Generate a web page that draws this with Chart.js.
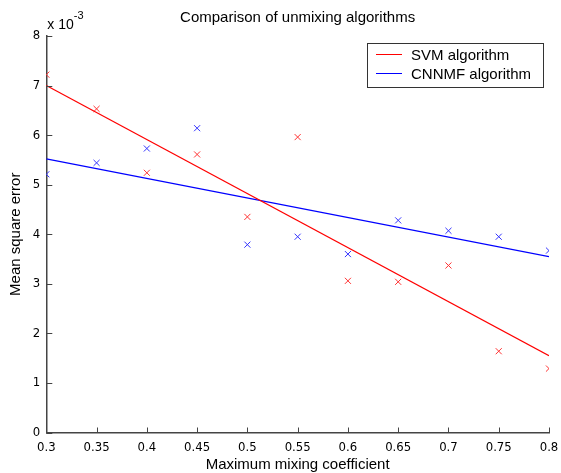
<!DOCTYPE html>
<html><head><meta charset="utf-8">
<script src="https://cdn.jsdelivr.net/npm/chart.js@4/dist/chart.umd.min.js"></script>
<style>html,body{margin:0;padding:0;background:#fff;} #wrap{width:561px;height:473px;position:relative;}</style>
</head><body><div id="wrap"><canvas id="c" width="561" height="473"></canvas></div>
<script>
const chartTitle = 'Comparison of unmixing algorithms';
const xAxisTitle = 'Maximum mixing coefficient';
const yAxisTitle = 'Mean square error';
const yExponentBase = 'x 10';
const yExponentPower = '-3';
const seriesNames = ['SVM algorithm', 'CNNMF algorithm'];
const seriesColors = ['#ff0000', '#0000ff'];

const mixingCoefficients = [0.3, 0.35, 0.4, 0.45, 0.5, 0.55, 0.6, 0.65, 0.7, 0.75, 0.8];
const svmErrors   = [0.00722, 0.00653, 0.00524, 0.00561, 0.00435, 0.00596, 0.00306, 0.00304, 0.00337, 0.00164, 0.00129];
const cnnmfErrors = [0.00521, 0.00544, 0.00573, 0.00614, 0.00379, 0.00395, 0.00360, 0.00428, 0.00407, 0.00395, 0.00367];
const fitX = [0.3, 0.8];
const svmFit = [0.00700, 0.00155];
const cnnmfFit = [0.00552, 0.00355];

const xTickValues = [0.3, 0.35, 0.4, 0.45, 0.5, 0.55, 0.6, 0.65, 0.7, 0.75, 0.8];
const xTickLabels = ['0.3', '0.35', '0.4', '0.45', '0.5', '0.55', '0.6', '0.65', '0.7', '0.75', '0.8'];
const yTickValues = [0, 0.001, 0.002, 0.003, 0.004, 0.005, 0.006, 0.007, 0.008];
const yTickLabels = ['0', '1', '2', '3', '4', '5', '6', '7', '8'];

const pts = (xs, ys) => xs.map((x, i) => ({x: x, y: ys[i]}));
const tickFont = {family: "'Liberation Sans Narrow', 'Arial Narrow', 'DejaVu Sans Condensed', sans-serif", size: 13};
const textFont = "'Liberation Sans', Arial, sans-serif";
const axisColor = '#444444';

const decorPlugin = {
  id: 'decor',
  afterDraw(chart) {
    const ctx = chart.ctx, ca = chart.chartArea;
    const xs = chart.scales.x, ys = chart.scales.y;
    ctx.save();
    // inward tick marks
    ctx.strokeStyle = axisColor; ctx.lineWidth = 1;
    ctx.beginPath();
    xs.ticks.forEach(t => { const p = Math.round(xs.getPixelForValue(t.value)) + 0.5; ctx.moveTo(p, ca.bottom); ctx.lineTo(p, ca.bottom - 5); });
    ys.ticks.forEach(t => { const p = Math.round(ys.getPixelForValue(t.value)) + 0.5; ctx.moveTo(ca.left, p); ctx.lineTo(ca.left + 6, p); });
    ctx.stroke();
    // title
    ctx.fillStyle = '#000';
    ctx.font = '15px ' + textFont;
    ctx.textAlign = 'center'; ctx.textBaseline = 'middle';
    ctx.fillText(chartTitle, (ca.left + ca.right) / 2, 18);
    // exponent
    ctx.textAlign = 'left'; ctx.textBaseline = 'alphabetic';
    ctx.font = '14px ' + textFont;
    ctx.fillText(yExponentBase, ca.left + 1, 29);
    const w = ctx.measureText(yExponentBase).width;
    ctx.font = '11px ' + textFont;
    ctx.fillText(yExponentPower, ca.left + 1 + w, 19);
    // legend
    const bx = ca.right - 182, by = ca.top + 7, bw = 176, bh = 44;
    ctx.fillStyle = '#fff'; ctx.fillRect(bx, by, bw, bh);
    ctx.strokeStyle = '#333'; ctx.lineWidth = 1;
    ctx.strokeRect(bx + 0.5, by + 0.5, bw, bh);
    ctx.font = '15px ' + textFont; ctx.textBaseline = 'middle';
    seriesNames.forEach((name, i) => {
      const ly = by + 11.5 + i * 19;
      ctx.strokeStyle = seriesColors[i]; ctx.lineWidth = 1;
      ctx.beginPath(); ctx.moveTo(bx + 9, ly); ctx.lineTo(bx + 35, ly); ctx.stroke();
      ctx.fillStyle = '#000';
      ctx.fillText(name, bx + 44, ly + 1);
    });
    ctx.restore();
  }
};

new Chart(document.getElementById('c'), {
  type: 'scatter',
  data: {
    datasets: [
      {label: seriesNames[0], data: pts(fitX, svmFit), showLine: true, borderColor: seriesColors[0], borderWidth: 1.2, pointRadius: 0, fill: false},
      {label: seriesNames[1], data: pts(fitX, cnnmfFit), showLine: true, borderColor: seriesColors[1], borderWidth: 1.2, pointRadius: 0, fill: false},
      {label: seriesNames[0] + ' data', data: pts(mixingCoefficients, svmErrors), showLine: false, pointStyle: 'crossRot', pointRadius: 4.3, borderColor: '#ff3333', borderWidth: 1, backgroundColor: 'transparent'},
      {label: seriesNames[1] + ' data', data: pts(mixingCoefficients, cnnmfErrors), showLine: false, pointStyle: 'crossRot', pointRadius: 4.3, borderColor: '#3333ff', borderWidth: 1, backgroundColor: 'transparent'}
    ]
  },
  options: {
    responsive: false,
    animation: false,
    events: [],
    layout: {padding: {left: 0, right: 12, top: 36, bottom: 0}},
    plugins: {legend: {display: false}, tooltip: {enabled: false}, title: {display: false}},
    scales: {
      x: {
        type: 'linear', min: 0.3, max: 0.8,
        afterBuildTicks: s => { s.ticks = xTickValues.map(v => ({value: v})); },
        afterFit: s => { s.height = 40.5; s.paddingLeft = 0; s.paddingRight = 0; },
        grid: {display: false, drawTicks: false, tickLength: 0},
        border: {display: true, color: axisColor, width: 1.5},
        ticks: {autoSkip: false, maxRotation: 0, padding: 7, color: '#000', font: tickFont, callback: (v, i) => xTickLabels[i]},
        title: {display: true, text: xAxisTitle, color: '#000', font: {family: textFont, size: 15, lineHeight: 1.1}, padding: {top: 0, bottom: 0}}
      },
      y: {
        type: 'linear', min: 0, max: 0.008,
        afterBuildTicks: s => { s.ticks = yTickValues.map(v => ({value: v})); },
        afterFit: s => { s.width = 46.3; s.paddingTop = 0; s.paddingBottom = 0; },
        grid: {display: false, drawTicks: false, tickLength: 0},
        border: {display: true, color: axisColor, width: 1.5},
        ticks: {autoSkip: false, padding: 6, color: '#000', font: tickFont, callback: (v, i) => yTickLabels[i]},
        title: {display: true, text: yAxisTitle, color: '#000', font: {family: textFont, size: 15, lineHeight: 1.1}, padding: {top: 8, bottom: 0}}
      }
    }
  },
  plugins: [decorPlugin]
});
</script></body></html>
